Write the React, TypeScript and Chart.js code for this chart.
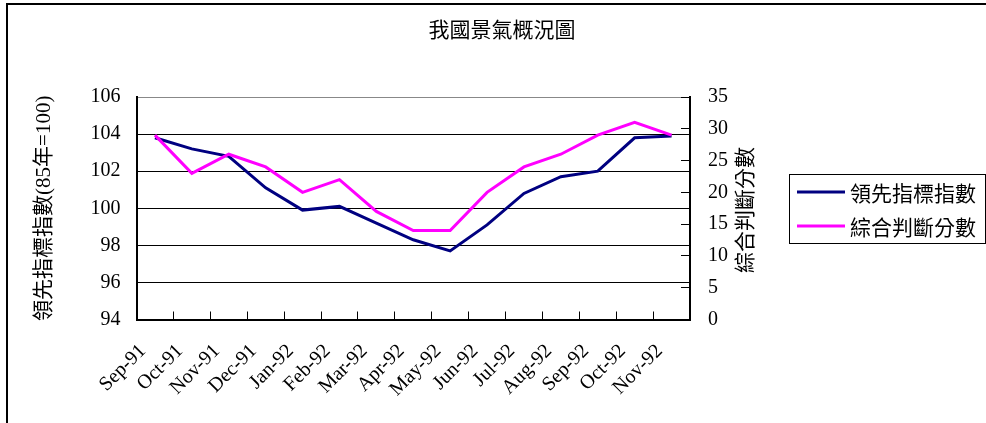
import React, { useEffect, useRef } from 'react';
import { Chart, registerables } from 'chart.js';

Chart.register(...registerables);

const chartTitle = '我國景氣概況圖';
const categories = [
  'Sep-91', 'Oct-91', 'Nov-91', 'Dec-91', 'Jan-92', 'Feb-92', 'Mar-92', 'Apr-92',
  'May-92', 'Jun-92', 'Jul-92', 'Aug-92', 'Sep-92', 'Oct-92', 'Nov-92',
];
const leadingLabel = '領先指標指數';
const leadingValues = [103.8, 103.2, 102.8, 101.1, 99.9, 100.1, 99.2, 98.3, 97.7, 99.1, 100.8, 101.7, 102.0, 103.8, 103.9];
const scoreLabel = '綜合判斷分數';
const scoreValues = [29, 23, 26, 24, 20, 22, 17, 14, 14, 20, 24, 26, 29, 31, 29];
const leftAxisTitle = '領先指標指數(85年=100)';
const rightAxisTitle = '綜合判斷分數';
const leftRange = [94, 106, 2];
const rightRange = [0, 35, 5];

const SERIF = '"Liberation Serif", "Noto Sans CJK TC", serif';
const SANS = '"Noto Sans CJK TC", "Noto Sans", sans-serif';

const decorPlugin = {
  id: 'decor',
  afterDraw(chart: any) {
    const ctx = chart.ctx as CanvasRenderingContext2D;
    ctx.save();
    // outer frame
    ctx.strokeStyle = '#000';
    ctx.lineWidth = 2;
    ctx.strokeRect(7, 4, 1000, 450);
    // title
    ctx.fillStyle = '#000';
    ctx.font = `21px ${SERIF}`;
    ctx.textAlign = 'center';
    ctx.textBaseline = 'middle';
    ctx.fillText(chartTitle, 502, 31);
    // right axis title (reads bottom to top)
    ctx.save();
    ctx.translate(746, 210);
    ctx.rotate(-Math.PI / 2);
    ctx.fillText(rightAxisTitle, 0, 0);
    ctx.restore();
    // legend
    ctx.strokeStyle = '#000';
    ctx.lineWidth = 1;
    ctx.strokeRect(789.5, 174.5, 196, 69);
    const items = [chart.data.datasets[1], chart.data.datasets[0]];
    const ys = [192, 226];
    ctx.font = `21px ${SANS}`;
    ctx.textAlign = 'left';
    items.forEach((ds: any, i: number) => {
      ctx.strokeStyle = ds.borderColor;
      ctx.lineWidth = 3;
      ctx.beginPath();
      ctx.moveTo(797, ys[i]);
      ctx.lineTo(845, ys[i]);
      ctx.stroke();
      ctx.fillStyle = '#000';
      ctx.fillText(ds.label, 850, ys[i] + 1);
    });
    ctx.restore();
  },
};

export default function App() {
  const ref = useRef<HTMLCanvasElement | null>(null);
  useEffect(() => {
    if (!ref.current) return;
    const chart = new Chart(ref.current, {
      type: 'line',
      data: {
        labels: categories,
        datasets: [
          {
            label: scoreLabel,
            data: scoreValues,
            yAxisID: 'y2',
            borderColor: '#FF00FF',
            backgroundColor: '#FF00FF',
            borderWidth: 3,
            pointRadius: 0,
            tension: 0,
            order: 0,
          },
          {
            label: leadingLabel,
            data: leadingValues,
            yAxisID: 'y',
            borderColor: '#000080',
            backgroundColor: '#000080',
            borderWidth: 3,
            pointRadius: 0,
            tension: 0,
            order: 1,
          },
        ],
      },
      options: {
        responsive: false,
        animation: false,
        layout: { padding: { top: 97, left: 0, right: 0, bottom: 0 } },
        plugins: {
          legend: { display: false },
          title: { display: false },
          tooltip: { enabled: false },
        },
        scales: {
          x: {
            type: 'category',
            offset: true,
            grid: {
              drawOnChartArea: false,
              offset: true,
              tickLength: -8,
              color: '#000',
              lineWidth: 1,
            },
            border: { display: true, color: '#000', width: 2 },
            ticks: {
              autoSkip: false,
              maxRotation: 45,
              minRotation: 45,
              padding: 28,
              labelOffset: -12,
              color: '#000',
              font: { family: SERIF, size: 20 },
            },
            afterFit: (s: any) => { s.height = 103.5; },
          },
          y: {
            position: 'left',
            min: leftRange[0],
            max: leftRange[1],
            ticks: { stepSize: leftRange[2], padding: 16, color: '#000', font: { family: SERIF, size: 20 } },
            grid: {
              drawTicks: false,
              color: (c: any) => (c.tick && c.tick.value === leftRange[1] ? '#888' : '#000'),
              lineWidth: 1,
            },
            border: { display: true, color: '#000', width: 2 },
            title: {
              display: true,
              text: leftAxisTitle,
              color: '#000',
              font: { family: SERIF, size: 21 },
              padding: { top: 32, bottom: 0 },
            },
            afterFit: (s: any) => { s.width = 136.5; },
          },
          y2: {
            position: 'right',
            min: rightRange[0],
            max: rightRange[1],
            ticks: { stepSize: rightRange[2], padding: 27, color: '#000', font: { family: SERIF, size: 20 } },
            grid: { drawOnChartArea: false, tickLength: -9, color: '#000', lineWidth: 1 },
            border: { display: true, color: '#000', width: 2 },
            afterFit: (s: any) => { s.width = 296; },
          },
        },
      },
      plugins: [decorPlugin],
    });
    return () => chart.destroy();
  }, []);
  return (
    <div style={{ position: 'fixed', left: 0, top: 0, width: 986, height: 423, background: '#fff' }}>
      <canvas ref={ref} width={986} height={423} style={{ display: 'block' }} />
    </div>
  );
}
